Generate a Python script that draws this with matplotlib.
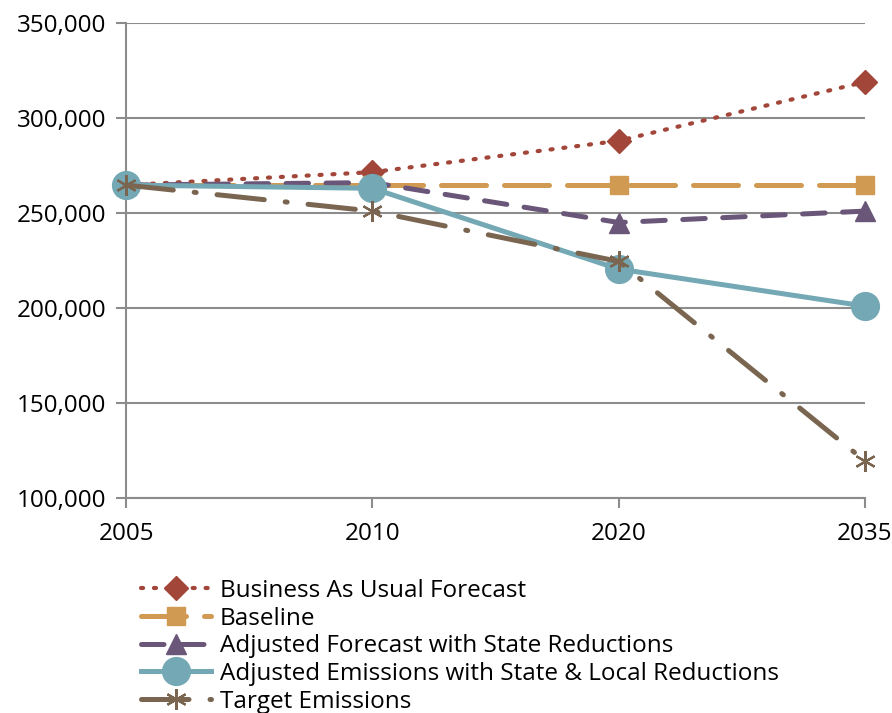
import matplotlib.pyplot as plt
from matplotlib.ticker import FuncFormatter

plt.rcParams['font.family'] = ['Open Sans', 'DejaVu Sans']

# data
years = ['2005', '2010', '2020', '2035']
bau = [264700, 271500, 288000, 319000]
baseline = [264700, 264700, 264700, 264700]
adj_state = [264700, 266000, 245000, 251000]
adj_local = [264700, 263000, 220500, 201000]
target = [264700, 251000, 224500, 119500]

x = list(range(len(years)))

fig = plt.figure(figsize=(8.92, 7.13), dpi=100)
ax = fig.add_axes([0.1413, 0.3016, 0.8284, 0.6661])

gray = '#8c8c8c'
ax.plot(x, bau, color='#A2463A', lw=3, ls=(0, (0.5, 2.6)), dash_capstyle='round',
        marker='D', ms=12, label='Business As Usual Forecast', clip_on=False, zorder=3)
ax.plot(x, baseline, color='#D09A52', lw=3.6, ls=(0, (9, 3.6)), dash_capstyle='round',
        marker='s', ms=13, label='Baseline', clip_on=False, zorder=3)
ax.plot(x, adj_state, color='#6A5678', lw=3.6, ls=(0, (4.5, 3.5)), dash_capstyle='round',
        marker='^', ms=14, label='Adjusted Forecast with State Reductions', clip_on=False, zorder=4)
ax.plot(x, adj_local, color='#73A8B4', lw=3.6, marker='o', ms=20,
        label='Adjusted Emissions with State & Local Reductions', clip_on=False, zorder=5)
ax.plot(x, target, color='#7A6650', lw=3.6, ls=(0, (9.5, 4.2, 0.4, 4.2)), dash_capstyle='round',
        marker=(6, 2, 0), ms=15, mew=1.6, label='Target Emissions', clip_on=False, zorder=6)

ax.set_xlim(0, 3)
ax.set_ylim(100000, 350000)
ax.set_xticks(x)
ax.set_xticklabels(years)
ax.set_yticks(range(100000, 350001, 50000))
ax.yaxis.set_major_formatter(FuncFormatter(lambda v, p: f'{int(v):,}'))
ax.grid(axis='y', color=gray, lw=1.5)
ax.set_axisbelow(True)
for s in ['top', 'right']:
    ax.spines[s].set_visible(False)
for s in ['left', 'bottom']:
    ax.spines[s].set_color(gray)
    ax.spines[s].set_linewidth(1.5)
ax.tick_params(axis='both', colors=gray, labelcolor='black', labelsize=17.5, width=1.5, length=7)
ax.tick_params(axis='x', pad=10)
ax.tick_params(axis='y', pad=7)

fig.legend(loc='upper left', bbox_to_anchor=(0.158, 0.188), frameon=False, fontsize=17.5,
           handlelength=2.9, handletextpad=0.35, labelspacing=0.15, borderpad=0, borderaxespad=0)

plt.savefig('out.png', dpi=100)
